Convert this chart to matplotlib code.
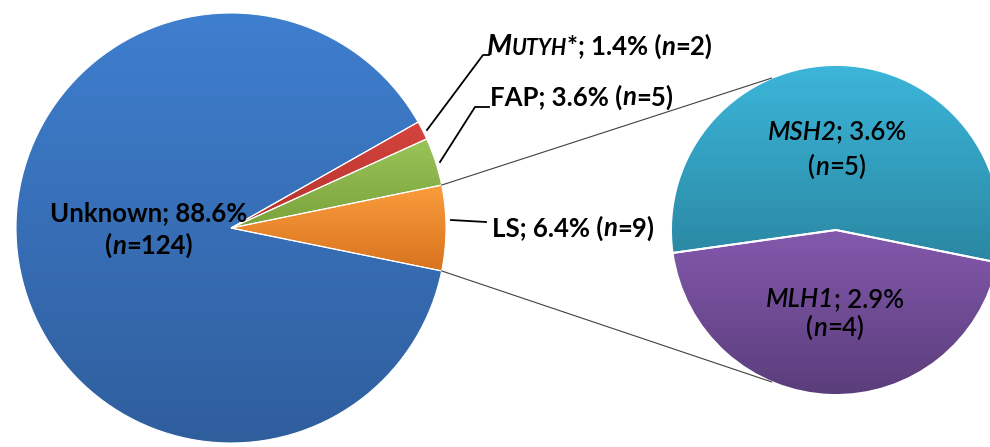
import numpy as np
import matplotlib.pyplot as plt
from matplotlib.colors import LinearSegmentedColormap
from matplotlib.offsetbox import TextArea, HPacker, VPacker, AnnotationBbox

# main pie (LS is the slice that gets split out)
main_names = ['LS', 'FAP', 'MUTYH*', 'Unknown']
main_pct = [6.4, 3.6, 1.4, 88.6]
main_n = [9, 5, 2, 124]
# secondary pie (breakdown of LS)
sub_names = ['MLH1', 'MSH2']
sub_pct = [2.9, 3.6]
sub_n = [4, 5]

main_cols = [('#fa9c3c', '#d8731f'), ('#9ac55a', '#7aa33b'),
             ('#d4453e', '#b5322c'), ('#3f7fcf', '#2f5e9d')]
sub_cols = [('#8459ad', '#5a3d7b'), ('#3cb6da', '#2a87a2')]

FAM = 'Lato'
FS = 18.5
H = 447

fig = plt.figure(figsize=(9.9, 4.47), dpi=100)
ax = fig.add_axes([0, 0, 1, 1])

c1, r1 = (231, H - 228), 215
c2, r2 = (836, H - 230), 165

ls_frac = main_pct[0] / sum(main_pct)
w1, _ = ax.pie(main_pct, center=c1, radius=r1, startangle=-ls_frac * 180,
               counterclock=True,
               wedgeprops=dict(edgecolor='white', linewidth=0.8))
w2, _ = ax.pie(sub_pct, center=c2, radius=r2, startangle=188,
               counterclock=True,
               wedgeprops=dict(edgecolor='white', linewidth=1.4))


def shade(wedges, cols):
    # vertical gradient per slice, like the office chart fill
    g = np.linspace(0, 1, 256).reshape(-1, 1)
    for w, (top, bot) in zip(wedges, cols):
        ext = w.get_path().get_extents()
        cm = LinearSegmentedColormap.from_list('g', [bot, top])
        im = ax.imshow(g, cmap=cm, origin='lower', interpolation='bilinear',
                       extent=[ext.x0, ext.x1, ext.y0, ext.y1],
                       zorder=0.5, aspect='auto')
        im.set_clip_path(w)
        w.set_facecolor('none')


shade(w1, main_cols)
shade(w2, sub_cols)

ax.set_xlim(0, 990)
ax.set_ylim(0, H)
ax.set_aspect('equal')
ax.axis('off')

# connector lines from LS wedge to secondary pie
t1 = np.deg2rad(ls_frac * 180)
for sgn, ang in [(1, 113), (-1, 247)]:
    p0 = (c1[0] + r1 * np.cos(t1), c1[1] + sgn * r1 * np.sin(t1))
    a = np.deg2rad(ang)
    p1 = (c2[0] + r2 * np.cos(a), c2[1] + r2 * np.sin(a))
    ax.plot([p0[0], p1[0]], [p0[1], p1[1]], color='#404040', lw=0.8, zorder=3)

# leader lines
ax.plot([427, 483, 489], [H - 130, H - 55, H - 55], color='black', lw=1.3)
ax.plot([440, 475, 489], [H - 162, H - 107, H - 107], color='black', lw=1.3)
ax.plot([451, 486], [H - 220, H - 222], color='black', lw=1.3)


def ta(s, size=FS, weight='bold', style='normal'):
    return TextArea(s, textprops=dict(family=FAM, size=size, weight=weight,
                                      style=style, color='black'))


def row(*parts):
    return HPacker(children=list(parts), pad=0, sep=0, align='baseline')


def place(box, x, y, ha=0.5):
    ab = AnnotationBbox(box, (x, H - y), frameon=False,
                        box_alignment=(ha, 0.5), pad=0)
    ax.add_artist(ab)


# Unknown
place(VPacker(children=[
    row(ta(f'{main_names[3]}; {main_pct[3]}%')),
    row(ta('('), ta('n', style='italic'), ta(f'={main_n[3]})'))],
    pad=0, sep=5.5, align='center'), 149, 230)

# LS
place(row(ta(f'{main_names[0]}; {main_pct[0]}% ('), ta('n', style='italic'),
          ta(f'={main_n[0]})')), 492, 228, ha=0)
# FAP
place(row(ta(f'{main_names[1]}; {main_pct[1]}% ('), ta('n', style='italic'),
          ta(f'={main_n[1]})')), 490, 97, ha=0)
# MUTYH (small caps look)
place(row(ta('M', size=FS + 2, style='italic'), ta('UTYH', size=FS - 3, style='italic'),
          ta(f'*; {main_pct[2]}% ('), ta('n', style='italic'),
          ta(f'={main_n[2]})')), 487, 47, ha=0)

# secondary labels
SW = 'semibold'
place(VPacker(children=[
    row(ta(sub_names[1], weight=SW, style='italic'),
        ta(f'; {sub_pct[1]}%', weight=SW)),
    row(ta('(', weight=SW), ta('n', weight=SW, style='italic'),
        ta(f'={sub_n[1]})', weight=SW))],
    pad=0, sep=7.5, align='center'), 837, 150)
place(VPacker(children=[
    row(ta(sub_names[0], weight=SW, style='italic'),
        ta(f'; {sub_pct[0]}%', weight=SW)),
    row(ta('(', weight=SW), ta('n', weight=SW, style='italic'),
        ta(f'={sub_n[0]})', weight=SW))],
    pad=0, sep=2.5, align='center'), 835, 314)

fig.savefig('out.png', dpi=100)
